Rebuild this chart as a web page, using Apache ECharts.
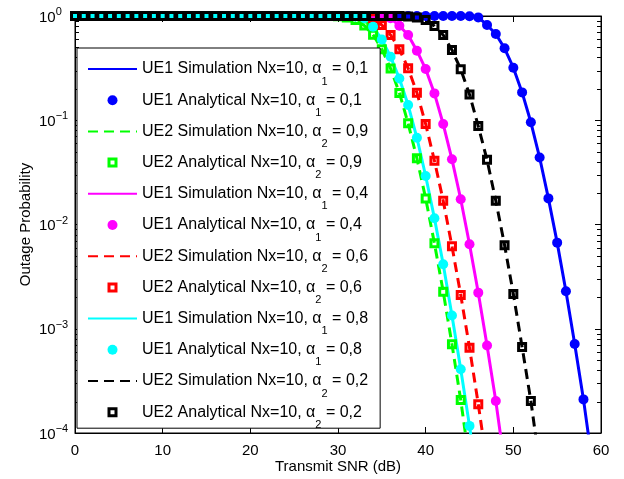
<!DOCTYPE html>
<html><head><meta charset="utf-8">
<script src="https://cdn.jsdelivr.net/npm/echarts@6/dist/echarts.min.js"></script>
<style>html,body{margin:0;padding:0;background:#fff}#c{width:624px;height:479px}</style>
</head><body><div id="c"></div>
<script>
// ---- data (SNR in dB, index = SNR) ----
const snrDb = [0,1,2,3,4,5,6,7,8,9,10,11,12,13,14,15,16,17,18,19,20,21,22,23,24,25,26,27,28,29,30,31,32,33,34,35,36,37,38,39,40,41,42,43,44,45,46,47,48,49,50,51,52,53,54,55,56,57,58,59,60];

// UE1, alpha1 = 0.1 (blue)
const ue1a01 = [1,1,1,1,1,1,1,1,1,1,1,1,1,1,1,1,1,1,1,1,1,1,1,1,1,1,1,1,1,1,1,1,1,1,1,1,1,1,1,1,1,1,1,1,1,
  0.995,0.97,0.82,0.672,0.49,0.319,0.185,0.0956,0.0439,0.0178,0.0067,0.00229,0.000714,0.00021,0.000052];
// UE2, alpha2 = 0.9 (green)
const ue2a09 = [1,1,1,1,1,1,1,1,1,1,1,1,1,1,1,1,1,1,1,1,1,1,1,1,1,1,1,1,1,1,
  0.995,0.97,0.915,0.81,0.66,0.48,0.313,0.183,0.0935,0.0432,0.0178,0.0066,0.00227,0.00071,0.000207,0.000052];
// UE1, alpha1 = 0.4 (magenta)
const ue1a04 = [1,1,1,1,1,1,1,1,1,1,1,1,1,1,1,1,1,1,1,1,1,1,1,1,1,1,1,1,1,1,1,1,1,1,1,
  0.995,0.95,0.807,0.657,0.465,0.31,0.181,0.092,0.0422,0.01745,0.00646,0.00222,0.00069,0.000203,0.00005];
// UE2, alpha2 = 0.6 (red)
const ue2a06 = [1,1,1,1,1,1,1,1,1,1,1,1,1,1,1,1,1,1,1,1,1,1,1,1,1,1,1,1,1,1,1,1,1,
  0.995,0.95,0.82,0.657,0.48,0.315,0.184,0.092,0.0409,0.0169,0.0062,0.00211,0.000658,0.000189,0.00005];
// UE1, alpha1 = 0.8 (cyan)
const ue1a08 = [1,1,1,1,1,1,1,1,1,1,1,1,1,1,1,1,1,1,1,1,1,1,1,1,1,1,1,1,1,1,1,
  0.998,0.99,0.95,0.79,0.595,0.407,0.251,0.14,0.0679,0.0292,0.01147,0.00415,0.00134,0.000408,0.000117,0.00003];
// UE2, alpha2 = 0.2 (black)
const ue2a02 = [1,1,1,1,1,1,1,1,1,1,1,1,1,1,1,1,1,1,1,1,1,1,1,1,1,1,1,1,1,1,1,1,1,1,1,1,1,1,
  0.99,0.97,0.915,0.80,0.657,0.472,0.308,0.177,0.088,0.0417,0.0169,0.00634,0.00216,0.00067,0.000203,0.00005];

const seriesNames = [
  'UE1 Simulation Nx=10, α_1 = 0,1',
  'UE1 Analytical Nx=10, α_1 = 0,1',
  'UE2 Simulation Nx=10, α_2 = 0,9',
  'UE2 Analytical Nx=10, α_2 = 0,9',
  'UE1 Simulation Nx=10, α_1 = 0,4',
  'UE1 Analytical Nx=10, α_1 = 0,4',
  'UE2 Simulation Nx=10, α_2 = 0,6',
  'UE2 Analytical Nx=10, α_2 = 0,6',
  'UE1 Simulation Nx=10, α_1 = 0,8',
  'UE1 Analytical Nx=10, α_1 = 0,8',
  'UE2 Simulation Nx=10, α_2 = 0,2',
  'UE2 Analytical Nx=10, α_2 = 0,2'
];
const xTicks = [0,10,20,30,40,50,60];
const minorTickValues = [2e-4,3e-4,4e-4,5e-4,6e-4,7e-4,8e-4,9e-4,2e-3,3e-3,4e-3,5e-3,6e-3,7e-3,8e-3,9e-3,
  2e-2,3e-2,4e-2,5e-2,6e-2,7e-2,8e-2,9e-2,0.2,0.3,0.4,0.5,0.6,0.7,0.8,0.9];

// ---- styling ----
const FONT = 'Liberation Sans, Arial, Helvetica, sans-serif';
const groups = [
  {vals: ue1a01, color: '#0000ff', dashed: false, marker: 'dot'},
  {vals: ue2a09, color: '#00ff00', dashed: true,  marker: 'square'},
  {vals: ue1a04, color: '#ff00ff', dashed: false, marker: 'dot'},
  {vals: ue2a06, color: '#ff0000', dashed: true,  marker: 'square'},
  {vals: ue1a08, color: '#00ffff', dashed: false, marker: 'dot'},
  {vals: ue2a02, color: '#000000', dashed: true,  marker: 'square'}
];
const ringPath = 'path://M0,0L10,0L10,10L0,10Z M3,3L3,7L7,7L7,3Z';

const series = [];
const legendData = [];
groups.forEach((g, gi) => {
  const pts = g.vals.map((v, i) => [snrDb[i], v]);
  const simName = seriesNames[gi * 2], anaName = seriesNames[gi * 2 + 1];
  series.push({
    type: 'line', name: simName, data: pts, symbol: 'circle', showSymbol: false, clip: true,
    lineStyle: {color: g.color, width: 3, type: g.dashed ? [10, 6] : 'solid'},
    itemStyle: {color: g.color}, z: 2
  });
  legendData.push({name: simName, itemStyle: {opacity: 0}});
  const visible = pts.filter(p => p[1] >= 1e-4);
  if (g.marker === 'dot') {
    series.push({
      type: 'scatter', name: anaName, data: visible, symbol: 'circle', symbolSize: 10, clip: false,
      itemStyle: {color: g.color, opacity: 1}, z: 2
    });
    legendData.push({name: anaName, icon: 'circle', itemStyle: {color: g.color, opacity: 1}});
  } else {
    series.push({
      type: 'scatter', name: anaName, data: visible, symbol: 'rect', symbolSize: 7, clip: false,
      itemStyle: {color: 'rgba(0,0,0,0)', borderColor: g.color, borderWidth: 3, opacity: 1}, z: 2
    });
    legendData.push({name: anaName, icon: ringPath, itemStyle: {color: g.color, borderWidth: 0, opacity: 1}});
  }
});

series.push({
  type: 'custom', silent: true, z: 3, clip: false,
  data: minorTickValues.map(v => [xTicks[0], v]),
  renderItem: (params, api) => {
    const v = api.value(1);
    const pL = api.coord([xTicks[0], v]);
    const pR = api.coord([xTicks[xTicks.length - 1], v]);
    const y = Math.round(pL[1]) + 0.5;
    return {type: 'group', children: [
      {type: 'line', shape: {x1: pL[0], y1: y, x2: pL[0] + 4, y2: y}, style: {stroke: '#000', lineWidth: 1}},
      {type: 'line', shape: {x1: pR[0], y1: y, x2: pR[0] - 4, y2: y}, style: {stroke: '#000', lineWidth: 1}}
    ]};
  }
});

const axisCommon = {
  axisLine: {show: true, onZero: false, lineStyle: {color: '#000', width: 1}},
  axisTick: {show: true, inside: true, length: 6, lineStyle: {color: '#000', width: 1}},
  splitLine: {show: false}
};

const chart = echarts.init(document.getElementById('c'), null, {renderer: 'canvas'});
chart.setOption({
  animation: false,
  backgroundColor: '#fff',
  grid: {left: 75, right: 23, top: 16, bottom: 46, show: true, borderColor: '#000', borderWidth: 1, backgroundColor: 'transparent'},
  xAxis: [
    Object.assign({type: 'value', min: xTicks[0], max: xTicks[xTicks.length - 1], interval: 10, position: 'bottom',
      axisLabel: {color: '#000', fontSize: 15, fontFamily: FONT, margin: 10},
      name: 'Transmit SNR (dB)', nameLocation: 'middle', nameGap: 26, nameMoveOverlap: false,
      nameTextStyle: {color: '#000', fontSize: 15, fontFamily: FONT}}, axisCommon),
    Object.assign({type: 'value', min: xTicks[0], max: xTicks[xTicks.length - 1], interval: 10, position: 'top',
      axisLabel: {show: false}}, axisCommon)
  ],
  yAxis: [
    Object.assign({type: 'log', logBase: 10, min: 1e-4, max: 1, splitNumber: 4, position: 'left',
      axisLabel: {
        color: '#000', fontFamily: FONT, align: 'left', margin: 36,
        formatter: v => {
          const e = Math.round(Math.log10(v));
          return '{b|10}{sup|' + (e < 0 ? '\u2212' + (-e) : e) + '}';
        },
        rich: {
          b: {fontSize: 15, fontFamily: FONT, color: '#000', padding: [3, 0, 0, 0]},
          sup: {fontSize: 11, fontFamily: FONT, color: '#000', padding: [0, 0, 8, 0]}
        }
      },
      name: 'Outage Probability', nameLocation: 'middle', nameGap: 42, nameMoveOverlap: false,
      nameTextStyle: {color: '#000', fontSize: 15, fontFamily: FONT}}, axisCommon),
    Object.assign({type: 'log', logBase: 10, min: 1e-4, max: 1, splitNumber: 4, position: 'right',
      axisLabel: {show: false}}, axisCommon)
  ],
  legend: {
    show: true, orient: 'vertical', left: 77, top: 48,
    padding: [13, 12, -2, 10],
    backgroundColor: '#fff', borderColor: '#000', borderWidth: 1,
    itemWidth: 49, itemHeight: 10, itemGap: 5.2, itemTextGap: 6,
    data: legendData,
    selectedMode: false,
    formatter: name => '{n|' + name.replace(/α_(\d)/, 'α}{s|$1}{n|') + '}',
    textStyle: {
      color: '#000', fontSize: 16, fontFamily: FONT,
      rich: {
        n: {fontSize: 16, fontFamily: FONT, color: '#000'},
        s: {fontSize: 11, fontFamily: FONT, color: '#000', padding: [25, 0, 0, 0]}
      }
    }
  },
  series: series
});
</script>
</body></html>
